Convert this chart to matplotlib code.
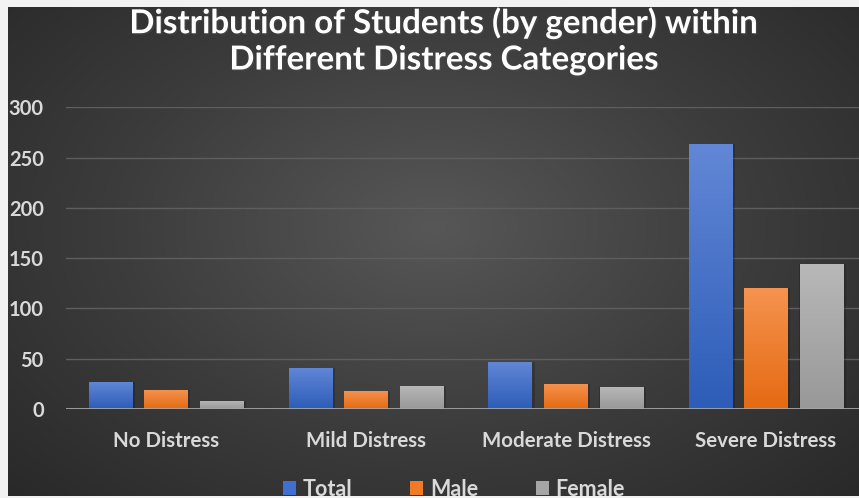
import numpy as np
import matplotlib
matplotlib.use("Agg")
import matplotlib.pyplot as plt
from matplotlib.colors import LinearSegmentedColormap
import matplotlib.patheffects as pe

categories = ["No Distress", "Mild Distress", "Moderate Distress", "Severe Distress"]
series_names = ["Total", "Male", "Female"]
total = [27, 41, 47, 264]
male = [19, 18, 25, 120]
female = [8, 23, 22, 144]
yticks = [0, 50, 100, 150, 200, 250, 300]

W, H = 859, 498
fig = plt.figure(figsize=(W / 100, H / 100), dpi=100)
fig.patch.set_facecolor("#f2f2f2")

# background panel with radial gradient
bg = fig.add_axes([8 / W, 1 - 496 / H, (W - 8) / W, (496 - 7) / H])
bg.set_axis_off()
yy, xx = np.mgrid[0:1:200j, 0:1:350j]
r = np.sqrt(((xx - 0.5) / 0.75) ** 2 + ((yy - 0.55) / 0.85) ** 2)
bgcmap = LinearSegmentedColormap.from_list("bg", ["#575757", "#3c3c3c", "#262626"])
bg.imshow(np.clip(r, 0, 1), cmap=bgcmap, vmin=0, vmax=1, aspect="auto",
          extent=[0, 1, 0, 1], origin="lower")
bg.set_xlim(0, 1)
bg.set_ylim(0, 1)

font = "Lato"
tick_color = "#d9d9d9"

ax = fig.add_axes([66 / W, 1 - 409 / H, 800 / W, (409 - 107.3) / H])
ax.patch.set_alpha(0)
ax.set_xlim(-0.5, 3.5)
ax.set_ylim(0, 300)
for s in ax.spines.values():
    s.set_visible(False)
ax.set_yticks(yticks)
ax.set_yticklabels([str(v) for v in yticks], fontfamily=font, fontweight="bold",
                   fontsize=14.5, color=tick_color)
ax.set_xticks(range(len(categories)))
ax.set_xticklabels(categories, fontfamily=font, fontweight="bold", fontsize=14.8,
                   color=tick_color)
ax.tick_params(axis="both", length=0)
ax.tick_params(axis="y", pad=16)
ax.tick_params(axis="x", pad=16)
for v in yticks[1:]:
    ax.axhline(v, color="#5e5e5e", lw=1.0, zorder=1)
ax.axhline(0, color="#a6a6a6", lw=2.0, zorder=5)

grads = [("#6287d6", "#2d5db8"), ("#f5934f", "#e56a12"), ("#b8b8b8", "#989898")]
legend_cols = ["#3f6fcf", "#f07a25", "#a5a5a5"]
x = np.arange(len(categories))
width = 0.22
offs = [-0.2775, 0.0, 0.2775]
handles = []
for i, vals in enumerate([total, male, female]):
    bars = ax.bar(x + offs[i], vals, width, color=legend_cols[i], zorder=3,
                  label=series_names[i], edgecolor="none")
    cm = LinearSegmentedColormap.from_list("g%d" % i, [grads[i][1], grads[i][0]])
    grad = np.linspace(0, 1, 100).reshape(-1, 1)
    for b in bars:
        x0, h = b.get_x(), b.get_height()
        # shadow
        ax.bar(x0 + b.get_width() / 2 + 0.006, h, b.get_width() + 0.012,
               color="black", alpha=0.18, zorder=2, edgecolor="none")
        im = ax.imshow(grad, cmap=cm, aspect="auto", origin="lower",
                       extent=[x0, x0 + b.get_width(), 0, h], zorder=4)
        im.set_clip_path(b)
    handles.append(bars)
ax.set_xlim(-0.5, 3.5)
ax.set_ylim(0, 300)

leg = fig.legend(handles, series_names, loc="center", bbox_to_anchor=(454 / W, 1 - 489 / H),
                 ncol=3, frameon=False, prop={"family": font, "weight": "bold", "size": 15.5},
                 handlelength=0.6, handleheight=0.6, columnspacing=2.7, handletextpad=0.3)
for t in leg.get_texts():
    t.set_color(tick_color)

for txt, yc in [("Distribution of Students (by gender) within", 23),
                ("Different Distress Categories", 60)]:
    fig.text(443 / W, 1 - yc / H, txt,
             ha="center", va="center", fontfamily=font, fontweight="bold", fontsize=23.8,
             color="white",
             path_effects=[pe.withSimplePatchShadow(offset=(1, -1), alpha=0.5)])

fig.savefig("out.png", dpi=100, facecolor=fig.get_facecolor())
